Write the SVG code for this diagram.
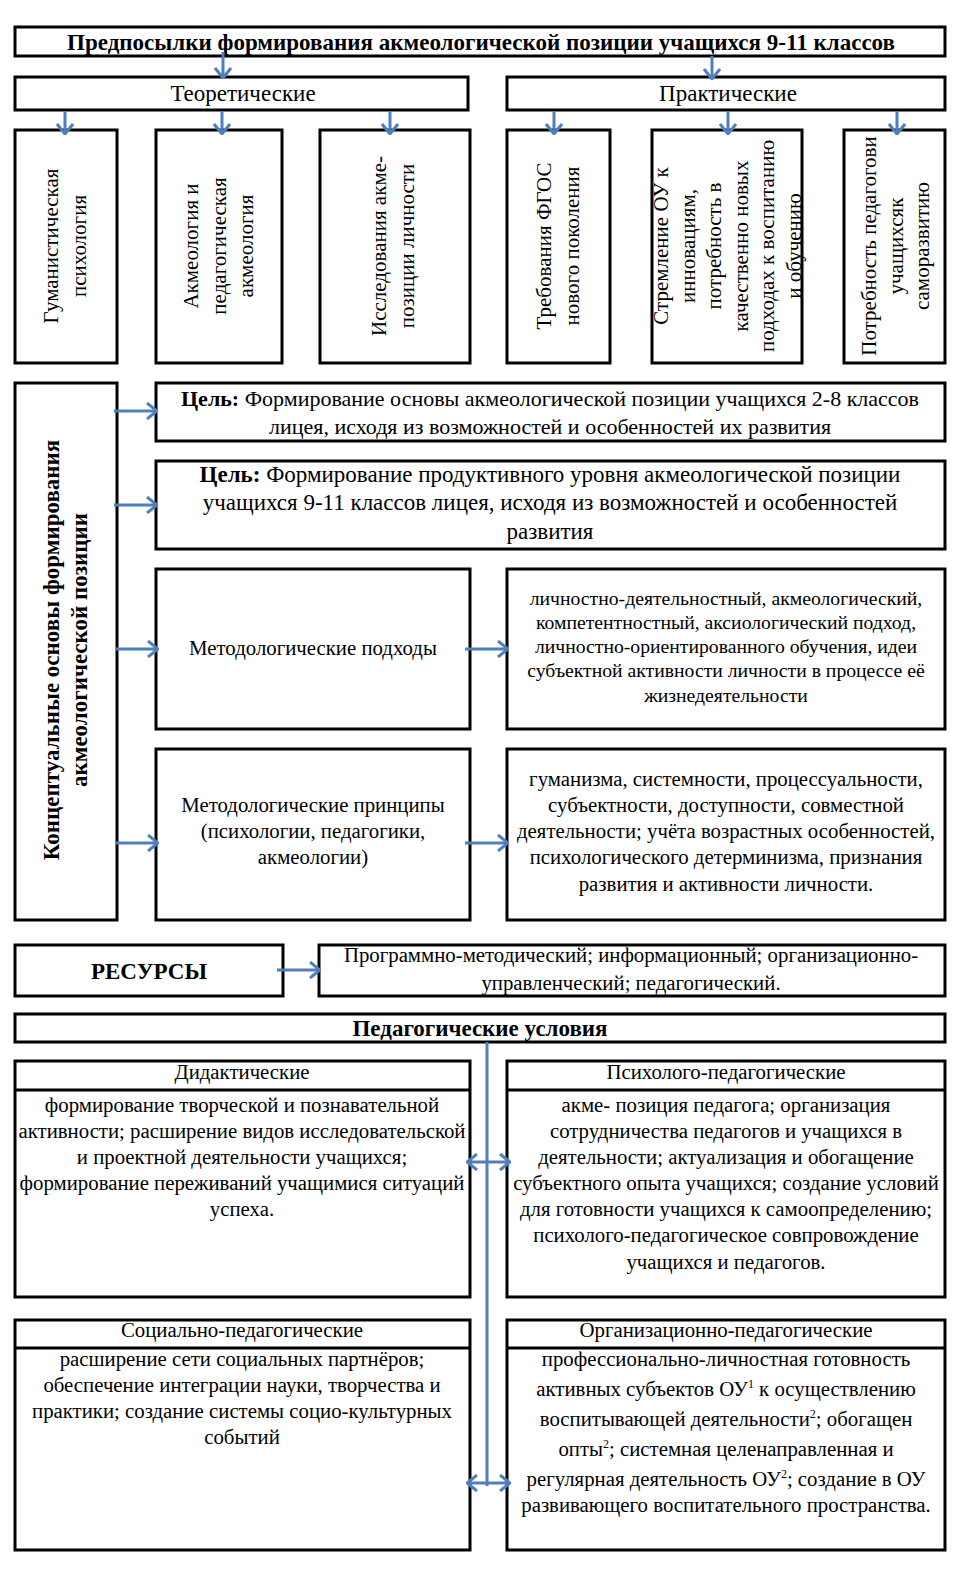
<svg xmlns="http://www.w3.org/2000/svg" width="961" height="1574" viewBox="0 0 961 1574">
<style>
.b{fill:#fff;stroke:#000;stroke-width:3}
.d{stroke:#000;stroke-width:3}
text{font-family:"Liberation Serif","Times New Roman",serif;fill:#000}
.t23{font-size:23px}
.t22{font-size:22px}
.t21{font-size:20.8px}
.tA{font-size:19.7px}
.bold{font-weight:bold}
.c{text-anchor:middle}
.v{font-size:21px;text-anchor:middle}
.ar{stroke:#4F7FBC;stroke-width:3;fill:none}
.sup{font-size:12px}
</style>
<defs>
<marker id="ah" viewBox="0 0 12 18" refX="11" refY="9" markerWidth="12" markerHeight="18" markerUnits="userSpaceOnUse" orient="auto-start-reverse">
<path d="M1,1 L11,9 L1,17" fill="none" stroke="#4F7FBC" stroke-width="3"/>
</marker>
</defs>
<rect width="961" height="1574" fill="#fff"/>

<g id="title"><rect class="b" x="15" y="27" width="930" height="29"/>
<text class="t23 bold c" x="481" y="50" textLength="828" lengthAdjust="spacingAndGlyphs">Предпосылки формирования акмеологической позиции учащихся 9-11 классов</text></g>

<g id="theor"><rect class="b" x="15" y="77" width="453" height="33"/>
<text class="t23 c" x="243" y="101">Теоретические</text></g>
<g id="pract"><rect class="b" x="507" y="77" width="438" height="33"/>
<text class="t23 c" x="728" y="101">Практические</text></g>

<g id="n1"><rect class="b" x="15" y="130" width="102" height="233"/>
<text class="v" transform="translate(58,246) rotate(-90)"><tspan x="0" y="0">Гуманистическая</tspan><tspan x="0" dy="27.5">психология</tspan></text></g>
<g id="n2"><rect class="b" x="156" y="130" width="126" height="233"/>
<text class="v" transform="translate(198,246) rotate(-90)"><tspan x="0" y="0">Акмеология и</tspan><tspan x="0" dy="27.5">педагогическая</tspan><tspan x="0" dy="27.5">акмеология</tspan></text></g>
<g id="n3"><rect class="b" x="320" y="130" width="150" height="233"/>
<text class="v" transform="translate(386,246) rotate(-90)"><tspan x="0" y="0">Исследования акме-</tspan><tspan x="0" dy="27.5">позиции личности</tspan></text></g>
<g id="n4"><rect class="b" x="507" y="130" width="103" height="233"/>
<text class="v" transform="translate(551,246) rotate(-90)"><tspan x="0" y="0">Требования ФГОС</tspan><tspan x="0" dy="27.5">нового поколения</tspan></text></g>
<g id="n5"><rect class="b" x="652" y="130" width="150" height="233"/>
<text class="v" transform="translate(668,246) rotate(-90)"><tspan x="0" y="0">Стремление ОУ к</tspan><tspan x="0" dy="26.6">инновациям,</tspan><tspan x="0" dy="26.6">потребность в</tspan><tspan x="0" dy="26.6">качественно новых</tspan><tspan x="0" dy="26.6">подходах к воспитанию</tspan><tspan x="0" dy="26.6">и обучению</tspan></text></g>
<g id="n6"><rect class="b" x="844" y="130" width="101" height="233"/>
<text class="v" transform="translate(876,246) rotate(-90)"><tspan x="0" y="0">Потребность педагогови</tspan><tspan x="0" dy="26.6">учащихсяк</tspan><tspan x="0" dy="26.6">саморазвитию</tspan></text></g>

<g id="concept"><rect class="b" x="15" y="383" width="102" height="537"/>
<text class="bold c" font-size="23" transform="translate(59,650) rotate(-90)"><tspan x="0" y="0">Концептуальные основы формирования</tspan><tspan x="0" dy="28">акмеологической позиции</tspan></text></g>

<g id="goal1"><rect class="b" x="156" y="383" width="789" height="58"/>
<text class="t22 c" x="550" y="406"><tspan class="bold">Цель:</tspan> Формирование основы акмеологической позиции учащихся 2-8 классов</text>
<text class="t22 c" x="550" y="434">лицея, исходя из возможностей и особенностей их развития</text></g>
<g id="goal2"><rect class="b" x="156" y="461" width="789" height="88"/>
<text class="t23 c" x="550" y="482"><tspan class="bold">Цель:</tspan> Формирование продуктивного уровня акмеологической позиции</text>
<text class="t23 c" x="550" y="510">учащихся 9-11 классов лицея, исходя из возможностей и особенностей</text>
<text class="t23 c" x="550" y="539">развития</text></g>

<g id="approach"><rect class="b" x="156" y="569" width="314" height="160"/>
<text class="t21 c" x="313" y="655">Методологические подходы</text></g>
<g id="approachR"><rect class="b" x="507" y="569" width="438" height="160"/>
<text class="tA c"><tspan x="726" y="605">личностно-деятельностный, акмеологический,</tspan><tspan x="726" y="629">компетентностный, аксиологический подход,</tspan><tspan x="726" y="653">личностно-ориентированного обучения, идеи</tspan><tspan x="726" y="677">субъектной активности личности в процессе её</tspan><tspan x="726" y="702">жизнедеятельности</tspan></text></g>

<g id="princ"><rect class="b" x="156" y="749" width="314" height="171"/>
<text class="t21 c"><tspan x="313" y="812">Методологические принципы</tspan><tspan x="313" y="838">(психологии, педагогики,</tspan><tspan x="313" y="864">акмеологии)</tspan></text></g>
<g id="princR"><rect class="b" x="507" y="749" width="438" height="171"/>
<text class="t21 c"><tspan x="726" y="786">гуманизма, системности, процессуальности,</tspan><tspan x="726" y="812">субъектности, доступности, совместной</tspan><tspan x="726" y="838">деятельности; учёта возрастных особенностей,</tspan><tspan x="726" y="864">психологического детерминизма, признания</tspan><tspan x="726" y="891">развития и активности личности.</tspan></text></g>

<g id="res"><rect class="b" x="15" y="945" width="268" height="51"/>
<text class="bold c" font-size="23" x="149" y="979">РЕСУРСЫ</text></g>
<g id="resR"><rect class="b" x="319" y="945" width="626" height="51"/>
<text class="t21 c"><tspan x="631" y="962">Программно-методический; информационный; организационно-</tspan><tspan x="631" y="990">управленческий; педагогический.</tspan></text></g>

<g id="cond"><rect class="b" x="15" y="1014" width="930" height="28"/>
<text class="t23 bold c" x="480" y="1036">Педагогические условия</text></g>

<g id="did"><rect class="b" x="15" y="1061" width="455" height="236"/><line class="d" x1="15" y1="1090" x2="470" y2="1090"/>
<text class="t21 c" x="242" y="1079">Дидактические</text>
<text class="t21 c"><tspan x="242" y="1112">формирование творческой и познавательной</tspan><tspan x="242" y="1138">активности; расширение видов исследовательской</tspan><tspan x="242" y="1164">и проектной деятельности учащихся;</tspan><tspan x="242" y="1190">формирование переживаний учащимися ситуаций</tspan><tspan x="242" y="1216">успеха.</tspan></text></g>

<g id="psy"><rect class="b" x="507" y="1061" width="438" height="236"/><line class="d" x1="507" y1="1090" x2="945" y2="1090"/>
<text class="t21 c" x="726" y="1079">Психолого-педагогические</text>
<text class="t21 c"><tspan x="726" y="1112">акме- позиция педагога; организация</tspan><tspan x="726" y="1138">сотрудничества педагогов и учащихся в</tspan><tspan x="726" y="1164">деятельности; актуализация и обогащение</tspan><tspan x="726" y="1190">субъектного опыта учащихся; создание условий</tspan><tspan x="726" y="1216">для готовности учащихся к самоопределению;</tspan><tspan x="726" y="1242">психолого-педагогическое совпровождение</tspan><tspan x="726" y="1269">учащихся и педагогов.</tspan></text></g>

<g id="soc"><rect class="b" x="15" y="1320" width="455" height="230"/><line class="d" x1="15" y1="1348" x2="470" y2="1348"/>
<text class="t21 c" x="242" y="1337">Социально-педагогические</text>
<text class="t21 c"><tspan x="242" y="1366">расширение сети социальных партнёров;</tspan><tspan x="242" y="1392">обеспечение интеграции науки, творчества и</tspan><tspan x="242" y="1418">практики; создание системы социо-культурных</tspan><tspan x="242" y="1444">событий</tspan></text></g>

<g id="org"><rect class="b" x="507" y="1320" width="438" height="230"/><line class="d" x1="507" y1="1348" x2="945" y2="1348"/>
<text class="t21 c" x="726" y="1337">Организационно-педагогические</text>
<text class="t21 c" x="726" y="1366">профессионально-личностная готовность</text>
<text class="t21 c" x="726" y="1396">активных субъектов ОУ<tspan class="sup" dy="-8">1</tspan><tspan dy="8"> к осуществлению</tspan></text>
<text class="t21 c" x="726" y="1426">воспитывающей деятельности<tspan class="sup" dy="-8">2</tspan><tspan dy="8">; обогащен</tspan></text>
<text class="t21 c" x="726" y="1456">опты<tspan class="sup" dy="-8">2</tspan><tspan dy="8">; системная целенаправленная и</tspan></text>
<text class="t21 c" x="726" y="1486">регулярная деятельность ОУ<tspan class="sup" dy="-8">2</tspan><tspan dy="8">; создание в ОУ</tspan></text>
<text class="t21 c" x="726" y="1512">развивающего воспитательного пространства.</text></g>

<g id="connectors">
<line class="ar" x1="223" y1="52" x2="223" y2="78" marker-end="url(#ah)"/>
<line class="ar" x1="712" y1="56" x2="712" y2="79" marker-end="url(#ah)"/>
<line class="ar" x1="65" y1="111" x2="65" y2="134" marker-end="url(#ah)"/>
<line class="ar" x1="222" y1="111" x2="222" y2="134" marker-end="url(#ah)"/>
<line class="ar" x1="390" y1="111" x2="390" y2="134" marker-end="url(#ah)"/>
<line class="ar" x1="554" y1="111" x2="554" y2="134" marker-end="url(#ah)"/>
<line class="ar" x1="728" y1="111" x2="728" y2="134" marker-end="url(#ah)"/>
<line class="ar" x1="897" y1="111" x2="897" y2="134" marker-end="url(#ah)"/>
<line class="ar" x1="114" y1="411" x2="157" y2="411" marker-end="url(#ah)"/>
<line class="ar" x1="114" y1="505" x2="157" y2="505" marker-end="url(#ah)"/>
<line class="ar" x1="116" y1="649" x2="158" y2="649" marker-end="url(#ah)"/>
<line class="ar" x1="116" y1="843" x2="158" y2="843" marker-end="url(#ah)"/>
<line class="ar" x1="465" y1="649" x2="508" y2="649" marker-end="url(#ah)"/>
<line class="ar" x1="465" y1="843" x2="508" y2="843" marker-end="url(#ah)"/>
<line class="ar" x1="277" y1="970" x2="320" y2="970" marker-end="url(#ah)"/>
<line class="ar" x1="487" y1="1042" x2="487" y2="1486" stroke-width="2.5"/>
<line class="ar" x1="467" y1="1162" x2="510" y2="1162" marker-start="url(#ah)" marker-end="url(#ah)"/>
<line class="ar" x1="467" y1="1483" x2="510" y2="1483" marker-start="url(#ah)" marker-end="url(#ah)"/>
</g>
</svg>
